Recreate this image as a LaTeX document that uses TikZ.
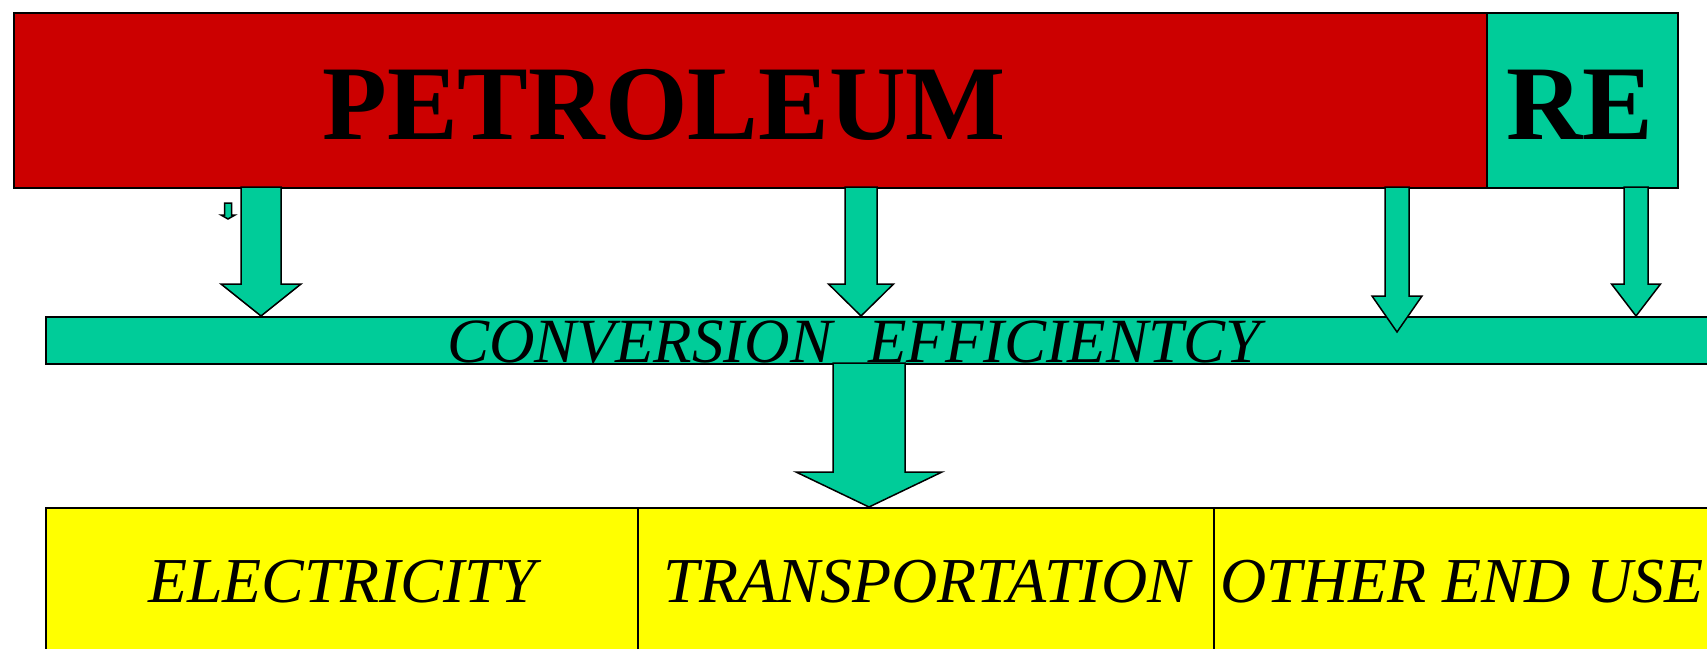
\documentclass[tikz,border=0pt]{standalone}
\usepackage{fontspec}
\setmainfont{Liberation Serif}
\definecolor{petred}{RGB}{204,0,0}
\definecolor{regreen}{RGB}{0,204,153}
\definecolor{useyellow}{RGB}{255,255,0}
\tikzset{
  boxstyle/.style={draw=black, line width=2pt, rectangle, inner sep=0pt, anchor=north west},
  blockarrow/.style={draw=black, line width=1.5pt, fill=regreen, line join=miter},
  bigtext/.style={font=\fontsize{106}{106}\selectfont\bfseries, inner sep=0pt, anchor=base},
  itext/.style={font=\fontsize{64}{64}\selectfont\itshape, inner sep=0pt, anchor=base},
}
% #1 centre x, #2 top y, #3 head y, #4 tip y, #5 shaft half width, #6 head half width
\newcommand\myarrow[6]{%
  \draw[blockarrow] (#1-#5,#2) -- (#1+#5,#2) -- (#1+#5,#3) -- (#1+#6,#3) -- (#1,#4)
    -- (#1-#6,#3) -- (#1-#5,#3) -- cycle;}
\begin{document}
\begin{tikzpicture}[x=1pt,y=-1pt]
\useasboundingbox (0,0) rectangle (1707,648);
\clip (0,0) rectangle (1707,648);
% top boxes
\node[boxstyle, fill=petred, minimum width=1473pt, minimum height=175pt] (pet) at (13,12) {};
\node[boxstyle, fill=regreen, minimum width=191pt, minimum height=175pt] (re) at (1486,12) {};
\node[bigtext] (pettext) at (664,139) {PETROLEUM};
\node[bigtext] (retext) at (1580,139) {RE};
% conversion bar
\node[boxstyle, fill=regreen, minimum width=1680pt, minimum height=47pt] (conv) at (45,316) {};
\node[itext, font=\fontsize{63}{63}\selectfont\itshape, anchor=base west] (convtext) at (447,362) {CONVERSION\hspace{36pt}EFFICIENTCY};
% bottom boxes
\node[boxstyle, fill=useyellow, minimum width=592pt, minimum height=160pt] (elec) at (45,507) {};
\node[boxstyle, fill=useyellow, minimum width=576pt, minimum height=160pt] (trans) at (637,507) {};
\node[boxstyle, fill=useyellow, minimum width=520pt, minimum height=160pt] (other) at (1213,507) {};
\node[itext] (electext) at (342,602) {ELECTRICITY};
\node[itext] (transtext) at (927,602) {TRANSPORTATION};
\node[itext] (othertext) at (1462,602) {OTHER END USE};
% arrows
\myarrow{261}{187}{284}{316}{20}{40}
\myarrow{861}{187}{284}{316}{16}{32.5}
\myarrow{1397}{187}{296}{332}{12}{25}
\myarrow{1636}{187}{284}{316}{12}{24.5}
\myarrow{869}{363}{472}{507}{36}{73}
\myarrow{228}{203}{215}{219}{3.5}{7}
\end{tikzpicture}
\end{document}
